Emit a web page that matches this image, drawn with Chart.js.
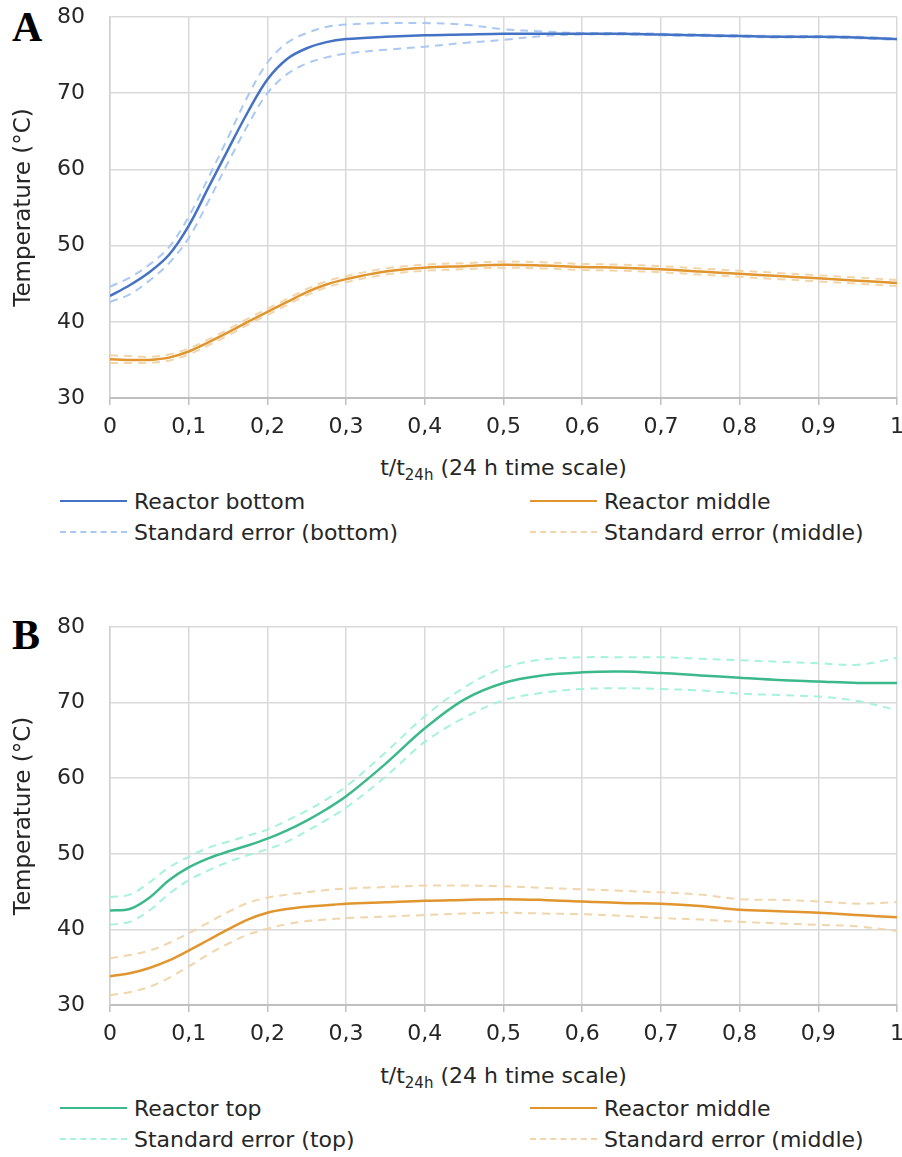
<!DOCTYPE html>
<html>
<head>
<meta charset="utf-8">
<script src="https://cdn.jsdelivr.net/npm/chart.js@4.4.1/dist/chart.umd.min.js"></script>
<style>
  body { margin: 0; background: #fff; font-family: "DejaVu Sans", sans-serif; color: #262626; }
  #wrap { position: relative; width: 902px; height: 1157px; }
  canvas { position: absolute; left: 0; }
  .panel { position: absolute; left: 12px; font: bold 42px "Liberation Serif", serif; color: #000; }
  .xtitle { position: absolute; left: 110px; width: 787px; text-align: center; font-size: 22px; line-height: 26px; }
  .xtitle sub { font-size: 15px; }
  .legend { position: absolute; left: 0; width: 902px; font-size: 22px; }
  .item { position: absolute; display: flex; align-items: center; white-space: nowrap; height: 26px; }
  .item span.ln { display: inline-block; width: 67px; margin-right: 7px; border-top: 2.5px solid; }
  .item span.ln.dash { border-top: 2.5px dashed; }
</style>
</head>
<body>
<div id="wrap">
  <div class="panel" style="top:3px">A</div>
  <canvas id="chartA" width="902" height="445" style="top:0"></canvas>
  <div class="xtitle" style="top:455px">t/t<sub>24h</sub> (24 h time scale)</div>
  <div class="legend" id="legendA" style="top:488px"></div>

  <div class="panel" style="top:611px">B</div>
  <canvas id="chartB" width="902" height="445" style="top:610px"></canvas>
  <div class="xtitle" style="top:1063px">t/t<sub>24h</sub> (24 h time scale)</div>
  <div class="legend" id="legendB" style="top:1095px"></div>
</div>
<script>
// tempo normalizado (t/t24h)
var tempo = [0, 0.025, 0.05, 0.075, 0.1, 0.125, 0.15, 0.175, 0.2, 0.225, 0.25, 0.275, 0.3, 0.35, 0.4, 0.45, 0.5, 0.55, 0.6, 0.65, 0.7, 0.75, 0.8, 0.85, 0.9, 0.95, 1];

// Painel A
var fundo      = [43.4, 44.8, 46.5, 48.8, 52.6, 57.6, 62.6, 67.5, 71.8, 74.5, 75.9, 76.7, 77.1, 77.4, 77.6, 77.7, 77.8, 77.8, 77.8, 77.8, 77.7, 77.6, 77.5, 77.4, 77.4, 77.3, 77.1];
var fundoSup   = [44.6, 45.8, 47.5, 49.8, 53.8, 58.9, 64.2, 69.6, 74.0, 76.6, 77.9, 78.7, 79.0, 79.2, 79.2, 79.0, 78.4, 78.1, 77.9, 77.9, 77.8, 77.7, 77.6, 77.5, 77.5, 77.4, 77.2];
var fundoInf   = [42.6, 43.6, 45.4, 47.7, 51.0, 55.8, 60.9, 65.8, 70.0, 72.5, 73.9, 74.7, 75.2, 75.7, 76.1, 76.6, 77.0, 77.5, 77.7, 77.7, 77.6, 77.5, 77.4, 77.3, 77.3, 77.2, 77.0];
var meioA      = [35.1, 35.0, 35.0, 35.3, 36.1, 37.3, 38.6, 40.0, 41.3, 42.6, 43.9, 44.9, 45.6, 46.6, 47.1, 47.3, 47.5, 47.4, 47.2, 47.1, 46.9, 46.6, 46.3, 46.0, 45.7, 45.4, 45.1];
var meioASup   = [35.6, 35.5, 35.4, 35.7, 36.5, 37.7, 39.0, 40.4, 41.7, 43.0, 44.3, 45.3, 46.0, 47.0, 47.5, 47.7, 47.9, 47.8, 47.6, 47.5, 47.3, 47.0, 46.7, 46.4, 46.1, 45.8, 45.5];
var meioAInf   = [34.6, 34.6, 34.6, 34.9, 35.7, 36.9, 38.2, 39.6, 40.9, 42.2, 43.5, 44.5, 45.2, 46.2, 46.7, 46.9, 47.1, 47.0, 46.8, 46.7, 46.5, 46.2, 45.9, 45.6, 45.3, 45.0, 44.7];

// Painel B
var topo       = [42.5, 42.7, 44.2, 46.5, 48.2, 49.4, 50.3, 51.1, 52.0, 53.1, 54.4, 55.9, 57.6, 61.9, 66.6, 70.4, 72.6, 73.6, 74.0, 74.1, 73.9, 73.6, 73.3, 73.0, 72.8, 72.6, 72.6];
var topoSup    = [44.3, 44.6, 46.2, 48.2, 49.6, 50.8, 51.6, 52.4, 53.2, 54.4, 55.7, 57.2, 58.9, 63.4, 68.2, 72.0, 74.6, 75.7, 76.0, 76.0, 76.0, 75.8, 75.6, 75.4, 75.2, 75.0, 75.9];
var topoInf    = [40.6, 41.0, 42.5, 44.7, 46.5, 47.8, 48.9, 49.8, 50.6, 51.6, 53.0, 54.5, 56.1, 60.2, 64.8, 68.0, 70.3, 71.3, 71.8, 71.9, 71.8, 71.6, 71.2, 71.0, 70.8, 70.2, 69.0];
var meioB      = [33.8, 34.2, 34.9, 35.9, 37.2, 38.6, 40.0, 41.3, 42.2, 42.7, 43.0, 43.2, 43.4, 43.6, 43.8, 43.9, 44.0, 43.9, 43.7, 43.5, 43.4, 43.1, 42.6, 42.4, 42.2, 41.9, 41.6];
var meioBSup   = [36.2, 36.6, 37.2, 38.2, 39.5, 40.9, 42.3, 43.5, 44.2, 44.6, 44.9, 45.2, 45.4, 45.6, 45.8, 45.8, 45.7, 45.5, 45.3, 45.1, 44.9, 44.6, 44.0, 43.9, 43.7, 43.4, 43.6];
var meioBInf   = [31.3, 31.7, 32.4, 33.6, 35.1, 36.7, 38.1, 39.3, 40.1, 40.7, 41.1, 41.3, 41.5, 41.7, 41.9, 42.1, 42.2, 42.1, 42.0, 41.8, 41.5, 41.3, 41.0, 40.8, 40.6, 40.4, 39.8];

var legendaA = ['Reactor bottom', 'Reactor middle', 'Standard error (bottom)', 'Standard error (middle)'];
var legendaB = ['Reactor top', 'Reactor middle', 'Standard error (top)', 'Standard error (middle)'];

var AZUL = '#4472c4', AZUL_CLARO = '#a9c9f2';
var LARANJA = '#e0952e', LARANJA_CLARO = '#f1d5ab';
var VERDE = '#3bb98a', VERDE_CLARO = '#a6f2dc';

function pontos(ys) {
    return tempo.map(function (t, i) { return { x: t, y: ys[i] }; });
}

function linha(ys, cor, tracejada) {
    return {
        data: pontos(ys),
        borderColor: cor,
        borderWidth: tracejada ? 2 : 2.5,
        borderDash: tracejada ? [8, 6] : [],
        pointRadius: 0,
        tension: 0.35,
        order: tracejada ? 2 : 1
    };
}

function rotuloX(v) {
    return String(Math.round(v * 10) / 10).replace('.', ',');
}

function opcoes(altX) {
    return {
        responsive: false,
        animation: false,
        layout: { autoPadding: false, padding: { top: 17, right: 5, left: 0, bottom: 0 } },
        plugins: { legend: { display: false }, tooltip: { enabled: false } },
        scales: {
            x: {
                type: 'linear', min: 0, max: 1,
                afterFit: function (s) { s.height = altX; s.paddingLeft = 0; s.paddingRight = 0; },
                ticks: { stepSize: 0.1, padding: 9, color: '#262626', font: { family: 'DejaVu Sans', size: 22 }, callback: rotuloX, maxRotation: 0 },
                grid: { color: '#d9d9d9', lineWidth: 1.5, tickLength: 7, tickColor: '#bfbfbf' },
                border: { color: '#bfbfbf', width: 2 }
            },
            y: {
                min: 30, max: 80,
                afterFit: function (s) { s.width = 110; s.paddingTop = 0; s.paddingBottom = 0; },
                ticks: { stepSize: 10, padding: 25, color: '#262626', font: { family: 'DejaVu Sans', size: 22 } },
                grid: { color: '#d9d9d9', lineWidth: 1.5, drawTicks: false },
                border: { color: '#d0d0d0', width: 1.5 },
                title: { display: true, text: 'Temperature (°C)', color: '#262626', font: { family: 'DejaVu Sans', size: 23 }, padding: 10 }
            }
        }
    };
}

new Chart(document.getElementById('chartA').getContext('2d'), {
    type: 'line',
    data: {
        datasets: [
            linha(fundo, AZUL, false),
            linha(meioA, LARANJA, false),
            linha(fundoSup, AZUL_CLARO, true),
            linha(fundoInf, AZUL_CLARO, true),
            linha(meioASup, LARANJA_CLARO, true),
            linha(meioAInf, LARANJA_CLARO, true)
        ]
    },
    options: opcoes(47)
});

new Chart(document.getElementById('chartB').getContext('2d'), {
    type: 'line',
    data: {
        datasets: [
            linha(topo, VERDE, false),
            linha(meioB, LARANJA, false),
            linha(topoSup, VERDE_CLARO, true),
            linha(topoInf, VERDE_CLARO, true),
            linha(meioBSup, LARANJA_CLARO, true),
            linha(meioBInf, LARANJA_CLARO, true)
        ]
    },
    options: opcoes(50)
});

// Legendas em duas colunas
function legenda(id, nomes, cores) {
    var el = document.getElementById(id);
    var posX = [60, 530];
    nomes.forEach(function (nome, i) {
        var d = document.createElement('div');
        d.className = 'item';
        d.style.left = posX[i % 2] + 'px';
        d.style.top = (Math.floor(i / 2) * 31) + 'px';
        d.innerHTML = '<span class="ln' + (i >= 2 ? ' dash' : '') + '" style="border-color:' + cores[i] + '"></span>' + nome;
        el.appendChild(d);
    });
}
legenda('legendA', legendaA, [AZUL, LARANJA, AZUL_CLARO, LARANJA_CLARO]);
legenda('legendB', legendaB, [VERDE, LARANJA, VERDE_CLARO, LARANJA_CLARO]);
</script>
</body>
</html>
